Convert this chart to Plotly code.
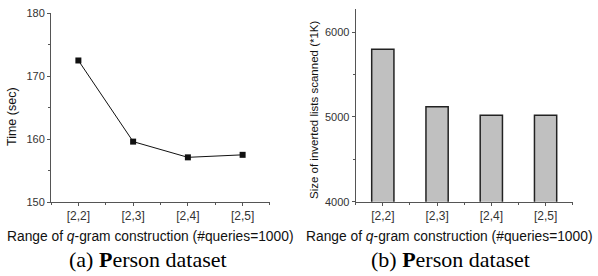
import plotly.graph_objects as go

categories = ["[2,2]", "[2,3]", "[2,4]", "[2,5]"]
time_sec = [172.5, 159.6, 157.1, 157.5]
size_scanned = [5800, 5120, 5020, 5020]

xpos = list(range(len(categories)))

fig = go.Figure()

fig.add_trace(go.Scatter(
    x=xpos, y=time_sec, mode="lines+markers",
    line=dict(color="#111111", width=1),
    marker=dict(symbol="square", size=6, color="#111111"),
    xaxis="x", yaxis="y", showlegend=False, cliponaxis=False,
))

fig.add_trace(go.Bar(
    x=xpos, y=size_scanned, width=0.41,
    marker=dict(color="#c0c0c0", line=dict(color="#222222", width=1.5)),
    xaxis="x2", yaxis="y2", showlegend=False,
))

sans = "Liberation Sans, Arial, sans-serif"
xtick_font = dict(family=sans, size=12, color="#333333")
ytick_font = dict(family=sans, size=11, color="#333333")

common_x = dict(
    tickvals=xpos, ticktext=categories, range=[-0.5, 3.5],
    showline=True, linecolor="#555555", linewidth=1,
    ticks="outside", ticklen=3, tickcolor="#555555",
    showgrid=False, zeroline=False, tickfont=xtick_font, automargin=False,
    minor=dict(ticks="outside", ticklen=2, tick0=-0.5, dtick=1, tickcolor="#555555", showgrid=False),
)
common_y = dict(
    showline=True, linecolor="#555555", linewidth=1,
    ticks="outside", ticklen=3, tickcolor="#555555",
    showgrid=False, zeroline=False, tickfont=ytick_font, automargin=False,
)

fig.update_layout(
    width=598, height=276,
    margin=dict(l=0, r=0, t=0, b=0, autoexpand=False),
    paper_bgcolor="white", plot_bgcolor="white",
    xaxis=dict(domain=[0.0853, 0.4515], anchor="y", **common_x),
    yaxis=dict(domain=[0.2681, 0.9518], anchor="x", range=[150, 180], tickvals=[150, 160, 170, 180],
               minor=dict(ticks="outside", ticklen=2, tick0=155, dtick=10, tickcolor="#555555", showgrid=False),
               **common_y),
    xaxis2=dict(domain=[0.5948, 0.9577], anchor="y2", **common_x),
    yaxis2=dict(domain=[0.2692, 0.9663], anchor="x2", range=[4000, 6270], tickvals=[4000, 5000, 6000],
                minor=dict(ticks="outside", ticklen=2, tick0=4500, dtick=1000, tickcolor="#555555", showgrid=False),
                **common_y),
    bargap=0.5,
)

def px_x(v):
    return v / 598

def px_y(v):
    return (276 - v) / 276

xtitle = "Range of <i>q</i>-gram construction (#queries=1000)"
title_font = dict(family=sans, size=13.8, color="#111111")
for cx in (150, 449):
    fig.add_annotation(text=xtitle, x=px_x(cx), y=px_y(236), xref="paper", yref="paper",
                       showarrow=False, font=title_font, xanchor="center", yanchor="middle")

fig.add_annotation(text="Time (sec)", x=px_x(12), y=px_y(117), xref="paper", yref="paper", textangle=-90,
                   showarrow=False, font=dict(family=sans, size=12.5, color="#111111"),
                   xanchor="center", yanchor="middle")
fig.add_annotation(text="Size of inverted lists scanned (*1K)", x=px_x(314), y=px_y(110), xref="paper", yref="paper",
                   textangle=-90, showarrow=False, font=dict(family=sans, size=11.5, color="#111111"),
                   xanchor="center", yanchor="middle")

cap_font = dict(family="Liberation Serif, Times New Roman, serif", size=22, color="#000000")
fig.add_annotation(text="(a) <b>P</b>erson dataset", x=px_x(148), y=px_y(259), xref="paper", yref="paper",
                   showarrow=False, font=cap_font, xanchor="center", yanchor="middle")
fig.add_annotation(text="(b) <b>P</b>erson dataset", x=px_x(450), y=px_y(259), xref="paper", yref="paper",
                   showarrow=False, font=cap_font, xanchor="center", yanchor="middle")

fig.write_html("out.html", config={"displayModeBar": False},
               post_script="document.body.style.margin='0';document.body.style.padding='0';")
